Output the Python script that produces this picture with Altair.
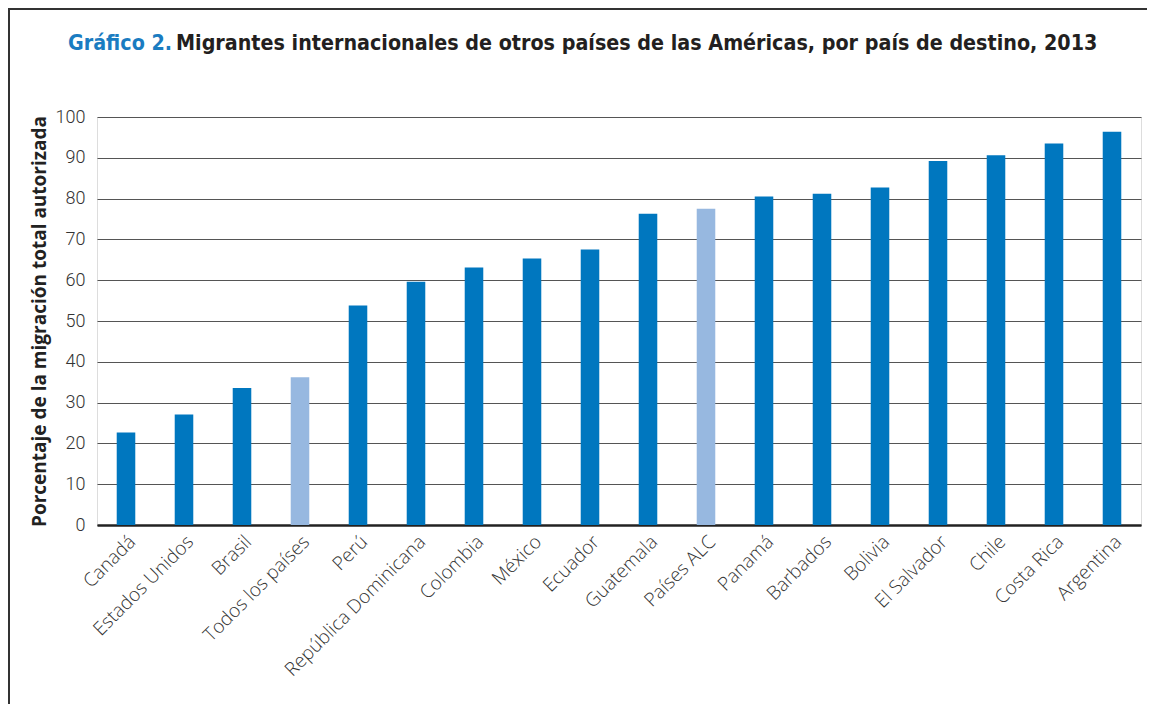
import altair as alt
import pandas as pd

categories = ["Canadá", "Estados Unidos", "Brasil", "Todos los países", "Perú",
              "República Dominicana", "Colombia", "México", "Ecuador", "Guatemala",
              "Países ALC", "Panamá", "Barbados", "Bolivia", "El Salvador", "Chile",
              "Costa Rica", "Argentina"]
values = [22.7, 27.1, 33.6, 36.2, 53.8, 59.6, 63.1, 65.3, 67.5, 76.3,
          77.5, 80.5, 81.2, 82.7, 89.2, 90.6, 93.5, 96.4]
groups = ["país", "país", "país", "agregado", "país", "país", "país", "país", "país", "país",
          "agregado", "país", "país", "país", "país", "país", "país", "país"]

title_prefix = "Gráfico 2."
title_main = "Migrantes internacionales de otros países de las Américas, por país de destino, 2013"
y_title = "Porcentaje de la migración total autorizada"

df = pd.DataFrame({"pais": categories, "valor": values, "grupo": groups})

W, H = 1044, 408
TITLE_FONT = "Liberation Sans Narrow, DejaVu Sans Condensed, Roboto Condensed, Roboto"

bars = alt.Chart(df).mark_bar().encode(
    x=alt.X("pais:N", sort=categories,
            scale=alt.Scale(paddingInner=0.68, paddingOuter=0.34),
            axis=alt.Axis(title=None, labelAngle=-45, labelFont="Open Sans",
                          labelFontSize=19, labelFontWeight=300, labelColor="#333333",
                          labelLimit=400, ticks=False, domainColor="#222222",
                          domainWidth=2.5, labelPadding=7, grid=False)),
    y=alt.Y("valor:Q", scale=alt.Scale(domain=[0, 100], nice=False),
            axis=alt.Axis(title=y_title, values=list(range(0, 101, 10)),
                          labelFont="Roboto", labelFontSize=18, labelFontWeight=300,
                          labelColor="#333333", labelPadding=12, ticks=False, domain=False,
                          grid=True, gridColor="#555555", gridWidth=1.2,
                          titleFont="Open Sans", titleFontSize=19, titleFontWeight="bold",
                          titleColor="#222222", titlePadding=6)),
    color=alt.Color("grupo:N", scale=alt.Scale(domain=["país", "agregado"],
                                               range=["#0077bf", "#97b8e0"]),
                    legend=None),
)

one = alt.Data(values=[{"a": 1}])

t1 = alt.Chart(one).mark_text(
    text=title_prefix, font=TITLE_FONT, fontSize=21.3, fontWeight="bold",
    color="#1a7cc1", align="left", baseline="middle"
).encode(x=alt.value(-29), y=alt.value(-73))

t2 = alt.Chart(one).mark_text(
    text=title_main, font=TITLE_FONT, fontSize=21.3, fontWeight="bold",
    color="#231f20", align="left", baseline="middle"
).encode(x=alt.value(79), y=alt.value(-73))

frame_top = alt.Chart(one).mark_rule(color="#333333", strokeWidth=2).encode(
    x=alt.value(-89), x2=alt.value(W + 6), y=alt.value(-108))
frame_left = alt.Chart(one).mark_rule(color="#333333", strokeWidth=2).encode(
    x=alt.value(-88), y=alt.value(-109), y2=alt.value(H + 180))

chart = alt.layer(bars, t1, t2, frame_top, frame_left).properties(
    width=W, height=H,
    autosize=alt.AutoSizeParams(type="none"),
    padding={"left": 89, "top": 109, "right": 6, "bottom": 179},
).configure_view(stroke=None).configure(background="white")

chart.save("out.html", embed_options={"renderer": "svg", "actions": False})
